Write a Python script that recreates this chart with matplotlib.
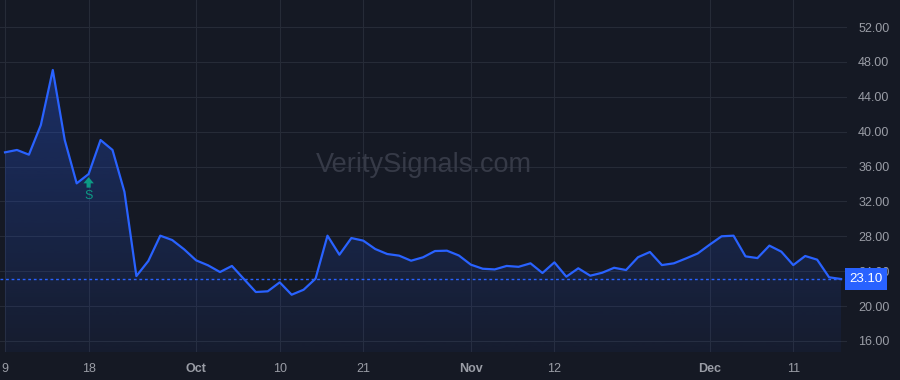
import matplotlib
matplotlib.use("Agg")
import matplotlib.pyplot as plt
import numpy as np

# daily closes, Sep 9 -> Dec 17 (trading days only)
values = [37.63, 37.90, 37.36, 40.76, 47.07, 39.04, 34.07, 35.14, 39.04, 37.90,
          33.10, 23.44, 25.17, 28.07, 27.57, 26.50, 25.24, 24.67, 23.90, 24.60,
          23.10, 21.61, 21.69, 22.72, 21.30, 21.87, 23.14, 28.07, 25.89, 27.80,
          27.50, 26.54, 25.97, 25.78, 25.20, 25.59, 26.31, 26.35, 25.80, 24.75,
          24.28, 24.20, 24.60, 24.50, 24.90, 23.79, 25.01, 23.37, 24.33, 23.48,
          23.82, 24.39, 24.13, 25.60, 26.20, 24.70, 24.90, 25.45, 26.03, 27.04,
          28.00, 28.07, 25.70, 25.50, 26.93, 26.24, 24.70, 25.74, 25.32, 23.30,
          23.10]
tick_idx = [0, 7, 16, 23, 30, 39, 46, 59, 66]
tick_labels = ["9", "18", "Oct", "10", "21", "Nov", "12", "Dec", "11"]
month_labels = ["Oct", "Nov", "Dec"]
y_ticks = [16, 20, 24, 28, 32, 36, 40, 44, 48, 52]
last_price = 23.10
signal_idx = 7
signal_text = "S"

bg = "#151924"
grid_c = "#262b37"
line_c = "#2962ff"
text_c = "#9a9da6"
teal = "#0d9a85"

plt.rcParams["font.family"] = ["Liberation Sans", "DejaVu Sans"]

fig = plt.figure(figsize=(9, 3.8), dpi=100, facecolor=bg)
ax = fig.add_axes([0, 28 / 380, 847 / 900, 352 / 380])
ax.set_facecolor(bg)

x = np.arange(len(values))
y = np.array(values)

ymin, ymax = 14.73, 55.1
ax.set_xlim(-0.42, 70.5)
ax.set_ylim(ymin, ymax)

# gradient fill under the line
grad = np.linspace(0.05, 0.30, 256)
rgba = np.zeros((256, 1, 4))
rgba[..., 0] = 41 / 255
rgba[..., 1] = 98 / 255
rgba[..., 2] = 1.0
rgba[..., 3] = grad.reshape(-1, 1)
poly = ax.fill_between(x, y, ymin, color="none", lw=0)
im = ax.imshow(rgba, aspect="auto", origin="lower",
               extent=[x[0], x[-1], ymin, y.max()], zorder=1)
im.set_clip_path(poly.get_paths()[0], transform=ax.transData)

ax.plot(x, y, color=line_c, lw=1.6, zorder=3, solid_joinstyle="round")

# last price line + label
ax.axhline(last_price, color=line_c, lw=1, ls=(0, (2, 2)), zorder=2)
ax.text(70.5 + 0.2, last_price, f"{last_price:.2f}", color="white", fontsize=9.5,
        ha="left", va="center", zorder=10, clip_on=False,
        bbox=dict(boxstyle="square,pad=0.35", fc=line_c, ec="none"))

# signal marker
ax.annotate("", xy=(signal_idx, values[signal_idx]), xycoords="data",
            xytext=(0, -9.8), textcoords="offset points",
            arrowprops=dict(arrowstyle="simple,head_length=0.45,head_width=0.75,tail_width=0.3",
                            color=teal, lw=0, shrinkA=0, shrinkB=2.2))
ax.annotate(signal_text, xy=(signal_idx, values[signal_idx]), xycoords="data",
            xytext=(0, -16), textcoords="offset points", color=teal,
            fontsize=9, ha="center", va="center")

# watermark
ax.text(0.5, 0.53, "VeritySignals.com", transform=ax.transAxes, fontsize=19.5,
        color="#363a47", ha="center", va="center", zorder=0.8)

# axes styling
ax.set_axisbelow(True)
ax.grid(True, color=grid_c, lw=0.8)
ax.set_xticks(tick_idx)
ax.set_xticklabels(tick_labels)
for lab in ax.get_xticklabels():
    if lab.get_text() in month_labels:
        lab.set_fontweight("bold")
ax.set_yticks(y_ticks)
ax.set_yticklabels([f"{v:.2f}" for v in y_ticks])
ax.yaxis.tick_right()
ax.tick_params(axis="both", length=0, colors=text_c, labelsize=9)
ax.tick_params(axis="y", pad=8)
ax.tick_params(axis="x", pad=8)
for s in ax.spines.values():
    s.set_visible(False)

fig.savefig("out.png", dpi=100, facecolor=bg)
